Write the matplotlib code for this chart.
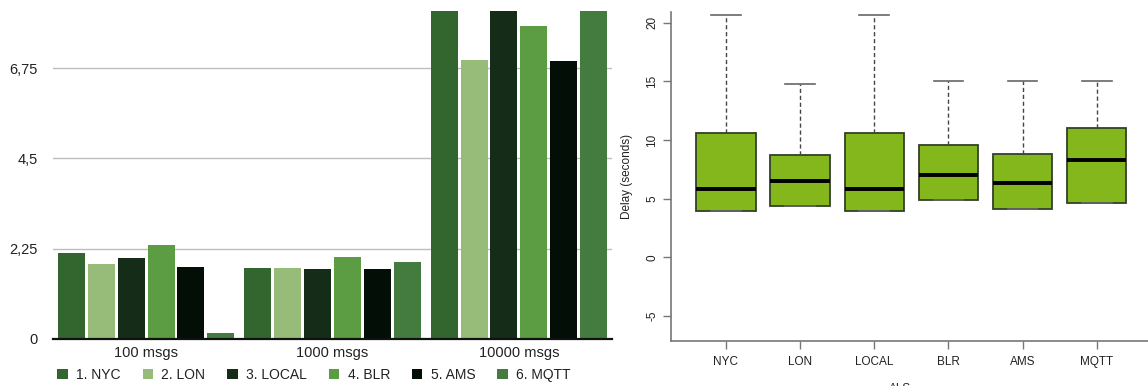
import matplotlib
matplotlib.use("Agg")
import matplotlib.pyplot as plt
import numpy as np
from matplotlib.ticker import FuncFormatter

plt.rcParams['font.family'] = ['Liberation Sans', 'DejaVu Sans']

# ---------------- data ----------------
groups = ["100 msgs", "1000 msgs", "10000 msgs"]
series = ["1. NYC", "2. LON", "3. LOCAL", "4. BLR", "5. AMS", "6. MQTT"]
nyc = [2.14, 1.77, 9.0]
lon = [1.87, 1.77, 6.96]
local = [2.02, 1.75, 9.0]
blr = [2.34, 2.04, 7.81]
ams = [1.80, 1.75, 6.93]
mqtt = [0.15, 1.92, 9.0]
bar_colors = ["#33662e", "#97bb79", "#152c18", "#5c9c42", "#030e06", "#447c3f"]
yticks_left = [0, 2.25, 4.5, 6.75]

box_labels = ["NYC", "LON", "LOCAL", "BLR", "AMS", "MQTT"]
whislo = [3.99, 4.35, 3.99, 4.92, 4.16, 4.63]
q1 = [3.99, 4.35, 3.99, 4.92, 4.16, 4.63]
med = [5.78, 6.51, 5.78, 7.05, 6.34, 8.27]
q3 = [10.63, 8.70, 10.63, 9.61, 8.84, 11.02]
whishi = [20.68, 14.80, 20.62, 15.00, 15.00, 15.05]
yticks_right = [-5, 0, 5, 10, 15, 20]

W, H = 1148, 386
fig = plt.figure(figsize=(W / 100, H / 100), dpi=100)

# ---------------- left: grouped bars ----------------
axL = fig.add_axes([53 / W, 47 / H, (612 - 53) / W, (339 - 10.7) / H])
all_series = [nyc, lon, local, blr, ams, mqtt]
x = np.arange(len(groups))
slot = 0.16
bw = 0.145
handles = []
for i, (vals, col, name) in enumerate(zip(all_series, bar_colors, series)):
    h = axL.bar(x + (i - 2.5) * slot, vals, width=bw, color=col, label=name, zorder=2)
    handles.append(h)
axL.set_xlim(-0.5, 2.5)
axL.set_ylim(0, 8.18)
axL.set_yticks(yticks_left)
axL.yaxis.set_major_formatter(FuncFormatter(lambda v, p: ("%g" % v).replace(".", ",")))
axL.grid(axis='y', color='#bdbdbd', linewidth=1.0, zorder=0)
axL.set_axisbelow(True)
for s in ['left', 'right', 'top']:
    axL.spines[s].set_visible(False)
axL.spines['bottom'].set_color('#111111')
axL.spines['bottom'].set_linewidth(1.6)
axL.spines['bottom'].set_zorder(3)
axL.set_xticks(x)
axL.set_xticklabels(groups)
axL.tick_params(axis='x', length=0, pad=5, labelsize=10.5, colors='#222222')
axL.tick_params(axis='y', length=0, pad=11, labelsize=10.5, colors='#222222')

leg = fig.legend(handles=handles, labels=series, loc='center', ncol=6,
                 bbox_to_anchor=(314 / W, 11 / H), frameon=False,
                 fontsize=10, handlelength=0.75, handleheight=0.75,
                 handletextpad=0.6, columnspacing=1.58, borderaxespad=0)
for t in leg.get_texts():
    t.set_color('#222222')

# ---------------- right: boxplot ----------------
axR = fig.add_axes([671 / W, 45.3 / H, (1148 - 671) / W, (340.7 - 12) / H])
stats = []
for i in range(len(box_labels)):
    stats.append(dict(label=box_labels[i], whislo=whislo[i], q1=q1[i], med=med[i],
                      q3=q3[i], whishi=whishi[i], fliers=[]))
axR.bxp(stats, positions=np.arange(1, 7), widths=0.8, capwidths=0.4,
        patch_artist=True, showfliers=False,
        boxprops=dict(facecolor='#84b71b', edgecolor='#33402a', linewidth=1.3),
        medianprops=dict(color='black', linewidth=2.8),
        whiskerprops=dict(color='#444444', linewidth=1.0, linestyle=(0, (3, 2))),
        capprops=dict(color='#666666', linewidth=1.2))
axR.set_xlim(0.26, 6.69)
axR.set_ylim(-7.1, 20.9)
axR.set_yticks(yticks_right)
axR.set_yticklabels([str(v) for v in yticks_right], rotation=90, va='center')
for s in ['right', 'top']:
    axR.spines[s].set_visible(False)
for s in ['left', 'bottom']:
    axR.spines[s].set_color('#777777')
    axR.spines[s].set_linewidth(1.2)
axR.tick_params(axis='both', direction='out', length=6, width=1.0, color='#777777',
                labelsize=8.5, colors='#222222')
axR.tick_params(axis='x', pad=5, colors='#222222', color='#777777')
axR.tick_params(axis='y', pad=3)
axR.set_ylabel("Delay (seconds)", fontsize=8.5, color='#222222', labelpad=10)
fig.text(900 / W, 3 / H, "ALS", ha='center', va='top', fontsize=8.5, color='#222222')

fig.savefig("out.png", dpi=100)
